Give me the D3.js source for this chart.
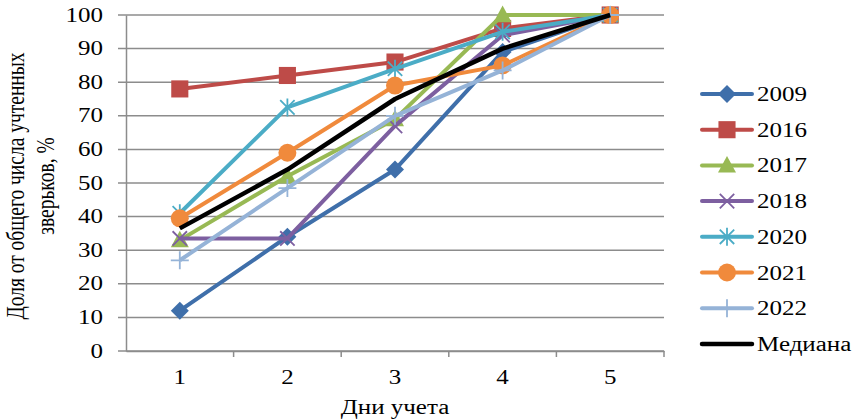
<!DOCTYPE html>
<html>
<head>
<meta charset="utf-8">
<script src="https://cdn.jsdelivr.net/npm/d3@7/dist/d3.min.js"></script>
<style>
  html, body { margin: 0; padding: 0; background: #fff; }
  svg { display: block; }
</style>
</head>
<body>
<svg id="chart" width="858" height="419"></svg>
<script>
// Survey days and share of animals counted (cumulative, %)
const days = [1, 2, 3, 4, 5];
const yTicks = [0, 10, 20, 30, 40, 50, 60, 70, 80, 90, 100];
const seriesNames = ["2009", "2016", "2017", "2018", "2020", "2021", "2022", "Медиана"];
const v2009 = [12, 34, 54, 89, 100];
const v2016 = [78, 82, 86, 96, 100];
const v2017 = [33, 52, 69, 100, 100];
const v2018 = [33.5, 33.5, 67, 94, 100];
const v2020 = [41, 72.5, 84, 95, 100];
const v2021 = [39.5, 59, 79, 85, 100];
const v2022 = [27, 48.5, 70, 83.5, 100];
const vMedian = [36.5, 54, 75, 90, 100];

const seriesValues = [v2009, v2016, v2017, v2018, v2020, v2021, v2022, vMedian];
const colors = ["#3F6FAA", "#BE4B48", "#98B954", "#7D5FA0", "#4BACC6", "#F08A3C", "#95B3D7", "#000000"];
const markers = ["diamond", "square", "triangle", "x", "asterisk", "circle", "plus", "none"];

const FONT = "'Liberation Serif', 'DejaVu Serif', serif";
const SX = 1.25; // horizontal glyph stretch

const svg = d3.select("#chart");
const margin = { left: 126, right: 194, top: 15, bottom: 68 };
const W = 858, H = 419;

const x = d3.scaleBand().domain(days).range([margin.left, W - margin.right]);
const y = d3.scaleLinear().domain([0, 100]).range([H - margin.bottom, margin.top]);

const gridColor = "#8c8c8c";

// text helper: places a horizontally stretched label at (px, py)
function label(parent, px, py, str, anchor, size) {
  return parent.append("text")
    .attr("transform", `translate(${px},${py}) scale(${SX},1)`)
    .attr("text-anchor", anchor)
    .attr("font-family", FONT)
    .style("font-family", FONT)
    .attr("font-size", size)
    .attr("fill", "#000")
    .text(str);
}

// horizontal gridlines
svg.append("g")
  .selectAll("line")
  .data(yTicks)
  .join("line")
  .attr("x1", margin.left - 8)
  .attr("x2", W - margin.right)
  .attr("y1", d => y(d))
  .attr("y2", d => y(d))
  .attr("stroke", gridColor)
  .attr("stroke-width", 1.5);

// y axis line
const yAxis = svg.append("g")
  .attr("transform", `translate(${margin.left},0)`)
  .call(d3.axisLeft(y).tickValues(yTicks).tickSize(0).tickFormat(""));
yAxis.select(".domain").attr("stroke", gridColor).attr("stroke-width", 1.5);
const yLabels = svg.append("g");
yTicks.forEach(t => label(yLabels, 103, y(t) + 6.5, String(t), "end", 20));

// x axis line
const xAxis = svg.append("g")
  .attr("transform", `translate(0,${y(0)})`)
  .call(d3.axisBottom(x).tickSize(0).tickFormat(""));
xAxis.select(".domain").attr("stroke", gridColor).attr("stroke-width", 1.5);
const xLabels = svg.append("g");
days.forEach(d => label(xLabels, x(d) + x.bandwidth() / 2, 384, String(d), "middle", 20));

// category separator ticks
const bounds = days.map(d => x(d) + x.bandwidth());
svg.append("g")
  .selectAll("line")
  .data(bounds)
  .join("line")
  .attr("x1", d => d).attr("x2", d => d)
  .attr("y1", y(0)).attr("y2", y(0) + 6)
  .attr("stroke", gridColor)
  .attr("stroke-width", 1.5);

// axis titles
label(svg, (margin.left + W - margin.right) / 2, 414, "Дни учета", "middle", 20);

const yTitle = svg.append("text")
  .attr("transform", `translate(24,186) rotate(-90) scale(1,${SX})`)
  .attr("text-anchor", "middle")
  .attr("font-family", FONT)
  .style("font-family", FONT)
  .attr("font-size", 19.5)
  .attr("fill", "#000");
yTitle.append("tspan").attr("x", 0).attr("dy", 0).text("Доля от общего числа учтенных");
yTitle.append("tspan").attr("x", 0).attr("dy", 24).text("зверьков, %");

const cx = d => x(d) + x.bandwidth() / 2;

function drawMarker(g, type, color, size) {
  const s = size;
  switch (type) {
    case "diamond":
      g.append("path").attr("d", `M0,${-s}L${s},0L0,${s}L${-s},0Z`).attr("fill", color);
      break;
    case "square":
      g.append("rect").attr("x", -s * 0.95).attr("y", -s * 0.95)
        .attr("width", s * 1.9).attr("height", s * 1.9).attr("fill", color);
      break;
    case "triangle":
      g.append("path").attr("d", `M0,${-s * 1.05}L${s},${s * 0.8}L${-s},${s * 0.8}Z`).attr("fill", color);
      break;
    case "x":
      g.append("path").attr("d", `M${-s * 0.8},${-s * 0.8}L${s * 0.8},${s * 0.8}M${-s * 0.8},${s * 0.8}L${s * 0.8},${-s * 0.8}`)
        .attr("stroke", color).attr("stroke-width", 1.8).attr("fill", "none");
      break;
    case "asterisk":
      g.append("path").attr("d", `M${-s * 0.8},${-s * 0.8}L${s * 0.8},${s * 0.8}M${-s * 0.8},${s * 0.8}L${s * 0.8},${-s * 0.8}M0,${-s}L0,${s}`)
        .attr("stroke", color).attr("stroke-width", 1.8).attr("fill", "none");
      break;
    case "circle":
      g.append("circle").attr("r", s).attr("fill", color);
      break;
    case "plus":
      g.append("path").attr("d", `M${-s},0L${s},0M0,${-s}L0,${s}`)
        .attr("stroke", color).attr("stroke-width", 1.8).attr("fill", "none");
      break;
  }
}

const line = d3.line().x((d, i) => cx(days[i])).y(d => y(d));

seriesNames.forEach((name, si) => {
  const g = svg.append("g");
  g.append("path")
    .datum(seriesValues[si])
    .attr("d", line)
    .attr("fill", "none")
    .attr("stroke", colors[si])
    .attr("stroke-width", si === 7 ? 4.5 : 4)
    .attr("stroke-linejoin", "round");
  if (markers[si] !== "none") {
    seriesValues[si].forEach((v, i) => {
      const mg = g.append("g").attr("transform", `translate(${cx(days[i])},${y(v)})`);
      drawMarker(mg, markers[si], colors[si], 9);
    });
  }
});

// legend
const legend = svg.append("g");
seriesNames.forEach((name, si) => {
  const ly = 94 + si * 35.7;
  const lg = legend.append("g");
  lg.append("line")
    .attr("x1", 702).attr("x2", 752)
    .attr("y1", ly).attr("y2", ly)
    .attr("stroke", colors[si]).attr("stroke-width", si === 7 ? 4.5 : 4)
    .attr("stroke-linecap", "round");
  if (markers[si] !== "none") {
    const mg = lg.append("g").attr("transform", `translate(727,${ly})`);
    drawMarker(mg, markers[si], colors[si], 9);
  }
  label(lg, 757, ly + 7, name, "start", 20);
});
</script>
</body>
</html>
